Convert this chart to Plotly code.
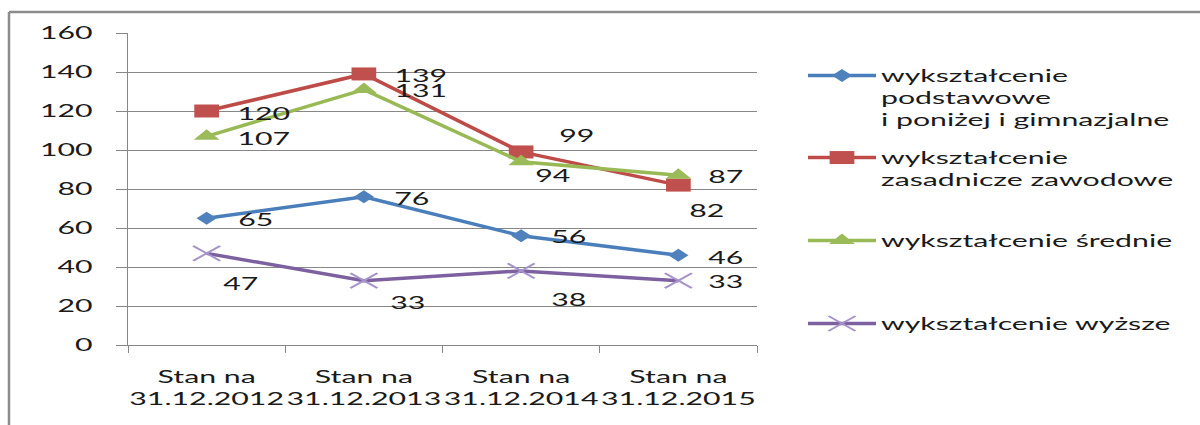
import plotly.graph_objects as go

# ---------------- data ----------------
categories = ["Stan na<br>31.12.2012", "Stan na<br>31.12.2013",
              "Stan na<br>31.12.2014", "Stan na<br>31.12.2015"]
series_names = [
    "wykształcenie<br>podstawowe<br>i poniżej i gimnazjalne",
    "wykształcenie<br>zasadnicze zawodowe",
    "wykształcenie średnie",
    "wykształcenie wyższe",
]
podstawowe = [65, 76, 56, 46]
zasadnicze = [120, 139, 99, 82]
srednie = [107, 131, 94, 87]
wyzsze = [47, 33, 38, 33]
y_ticks = [0, 20, 40, 60, 80, 100, 120, 140, 160]

# ---------------- styles ----------------
W, H = 1200, 425
PL, PR, PT, PB = 128, 757, 33, 345          # plot area in px
FONT = "Lato"
FS = 17
FW = 400
TXT = "#1a1a1a"
GRID = "#878787"

line_colors = ["#4A7EBB", "#BE4B48", "#98B954", "#7D60A0"]
marker_colors = ["#4F81BD", "#C0504D", "#9BBB59", "#A593C9"]
symbols = ["diamond", "square", "triangle-up", "x-thin"]
msizes = [10, 13, 14, 15]
values = [podstawowe, zasadnicze, srednie, wyzsze]

# label offsets (px, right / down) relative to each point
label_dx = [[49, 48, 48, 48], [57, 57, 56, 29], [57, 57, 32, 48], [34, 44, 48, 48]]
label_dy = [[1, 2, 1, 2], [2, 2, -16, 25], [2, 1, 14, 1], [30, 22, 29, 1]]

legend_ids = ["legend", "legend2", "legend3", "legend4"]
legend_line_center = [75, 157, 240, 323]   # px


def px_x(px):
    return (px - PL) / (PR - PL)


def px_y(py):
    return (PB - py) / (PB - PT)


def font():
    return dict(family=FONT, size=FS, color=TXT, weight=FW)


fig = go.Figure()
for i in range(4):
    marker = dict(symbol=symbols[i], size=msizes[i], color=marker_colors[i])
    if symbols[i] == "x-thin":
        marker["line"] = dict(color=marker_colors[i], width=1.5)
    fig.add_trace(go.Scatter(
        x=categories, y=values[i], name=series_names[i], mode="lines+markers",
        line=dict(color=line_colors[i], width=3.5), marker=marker,
        legend=legend_ids[i], cliponaxis=False,
    ))

annotations = []
for i in range(4):
    for j, v in enumerate(values[i]):
        annotations.append(dict(
            x=categories[j], y=v, xref="x", yref="y", text=str(v), showarrow=False,
            xanchor="center", yanchor="middle",
            xshift=label_dx[i][j], yshift=-label_dy[i][j],
            font=font(),
        ))

legend_common = dict(
    font=font(),
    bgcolor="rgba(0,0,0,0)", borderwidth=0, valign="top",
    xanchor="left", yanchor="top", itemwidth=68, tracegroupgap=0,
)
layout_legends = {}
for i, lid in enumerate(legend_ids):
    d = dict(legend_common)
    d["x"] = px_x(803)
    d["y"] = px_y(legend_line_center[i] - 17)
    layout_legends[lid] = d

fig.update_layout(
    width=W, height=H,
    margin=dict(l=PL, r=W - PR, t=PT, b=H - PB, pad=0),
    paper_bgcolor="white", plot_bgcolor="white",
    font=font(),
    showlegend=True,
    annotations=annotations,
    shapes=[
        dict(type="line", xref="paper", yref="paper",
             x0=px_x(9), x1=px_x(9), y0=px_y(H + 20), y1=px_y(12),
             line=dict(color="#8C8C8C", width=2.5)),
        dict(type="line", xref="paper", yref="paper",
             x0=px_x(9), x1=px_x(W + 20), y0=px_y(12), y1=px_y(12),
             line=dict(color="#8C8C8C", width=2.5)),
    ],
    **layout_legends,
)
fig.update_xaxes(
    type="category", range=[-0.5, len(categories) - 0.5],
    showgrid=False, showline=True, linecolor=GRID, linewidth=1,
    ticks="outside", tickson="boundaries", ticklen=7, tickcolor=GRID,
    tickfont=font(), ticklabelstandoff=17,
)
fig.update_yaxes(
    range=[0, 160], tickvals=y_ticks, showgrid=True, gridcolor=GRID, gridwidth=1,
    showline=True, linecolor=GRID, linewidth=1, zeroline=False,
    ticks="outside", ticklen=11, tickcolor=GRID,
    tickfont=font(), ticklabelstandoff=20,
)

# horizontal stretch of texts and markers (the reference picture is widened)
post_js = """
(function(){
  document.body.style.margin = '0';
  document.body.style.overflow = 'hidden';
  var gd = document.getElementById('{plot_id}');
  var S = 1.78;
  var MS = [1.55, 1.9, 1.6, 1.8];
  var LIDS = ['legend','legend2','legend3','legend4'];
  function addScale(el, s, about){
    var tr = el.getAttribute('transform') || '';
    if (tr.indexOf('scale(' + s + ',1)') !== -1) return;
    if (about !== null) {
      el.setAttribute('transform', tr + ' translate(' + about + ',0) scale(' + s + ',1) translate(' + (-about) + ',0)');
    } else {
      el.setAttribute('transform', tr + ' scale(' + s + ',1)');
    }
  }
  function run(){
    try {
      gd.querySelectorAll('text').forEach(function(t){
        var x0 = parseFloat(t.getAttribute('x')) || 0;
        addScale(t, S, x0);
      });
      gd.querySelectorAll('.scatterlayer .trace').forEach(function(tr, i){
        tr.querySelectorAll('path.point').forEach(function(p){ addScale(p, MS[i], null); });
      });
      LIDS.forEach(function(id, i){
        gd.querySelectorAll('g.' + id + ' path.scatterpts').forEach(function(p){ addScale(p, MS[i], null); });
        gd.querySelectorAll('g.' + id + ' .scrollbox').forEach(function(g){ g.removeAttribute('clip-path'); });
      });
    } catch(e) {}
  }
  run();
  if (gd && gd.on) gd.on('plotly_afterplot', run);
  setTimeout(run, 50); setTimeout(run, 300);
})();
"""

fig.write_html("out.html", post_script=post_js, config={"displayModeBar": False})
